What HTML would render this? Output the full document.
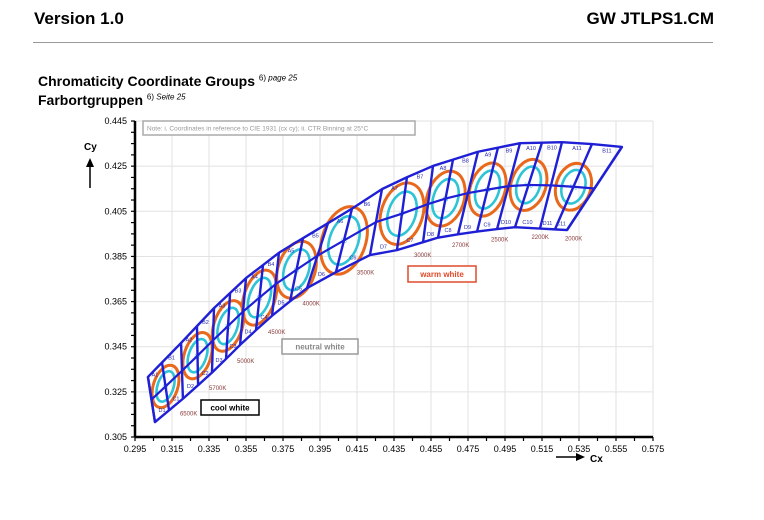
<!DOCTYPE html>
<html><head><meta charset="utf-8">
<style>
body{margin:0;background:#fff;width:764px;height:520px;overflow:hidden;font-family:"Liberation Sans",sans-serif}
.hdr{position:absolute;font-weight:bold;font-size:17px;top:9px}
</style></head>
<body>
<div class="hdr" style="left:34px">Version 1.0</div>
<div class="hdr" style="right:50px">GW JTLPS1.CM</div>
<div style="position:absolute;left:33px;top:42px;width:680px;height:1px;background:#999"></div>
<div style="position:absolute;left:38px;top:73px;font-weight:bold;font-size:14px">Chromaticity Coordinate Groups <sup style="font-size:8px;font-weight:normal">6) <i>page 25</i></sup></div>
<div style="position:absolute;left:38px;top:92px;font-weight:bold;font-size:14px">Farbortgruppen <sup style="font-size:8px;font-weight:normal">6) <i>Seite 25</i></sup></div>
<svg id="chart" width="764" height="520" style="position:absolute;left:0;top:0"></svg>
<script>
const xTicks=[0.295,0.315,0.335,0.355,0.375,0.395,0.415,0.435,0.455,0.475,0.495,0.515,0.535,0.555,0.575];
const xTickLabels=["0.295","0.315","0.335","0.355","0.375","0.395","0.415","0.435","0.455","0.475","0.495","0.515","0.535","0.555","0.575"];
const yTicks=[0.305,0.325,0.345,0.365,0.385,0.405,0.425,0.445];
const yTickLabels=["0.305","0.325","0.345","0.365","0.385","0.405","0.425","0.445"];
const upperCx=[0.3020,0.3204,0.3377,0.3550,0.3734,0.3950,0.4112,0.4274,0.4409,0.4561,0.4799,0.5031,0.5301,0.5583];
const upperCy=[0.3316,0.3471,0.3621,0.3754,0.3870,0.3976,0.4056,0.4144,0.4197,0.4251,0.4313,0.4352,0.4357,0.4335];
const lowerCx=[0.3058,0.3220,0.3382,0.3545,0.3707,0.3880,0.4058,0.4220,0.4366,0.4599,0.4777,0.4993,0.5285];
const lowerCy=[0.3116,0.3227,0.3347,0.3480,0.3599,0.3710,0.3790,0.3856,0.3878,0.3936,0.3958,0.3980,0.3967];
const boundTopCx=[0.3020,0.3096,0.3199,0.3285,0.3377,0.3464,0.3550,0.3642,0.3728,0.3858,0.3993,0.4123,0.4285,0.4420,0.4561,0.4669,0.4804,0.4912,0.5031,0.5150,0.5258,0.5420,0.5582];
const boundBotCx=[0.3058,0.3134,0.3209,0.3291,0.3366,0.3442,0.3518,0.3604,0.3691,0.3788,0.3880,0.4036,0.4220,0.4366,0.4507,0.4588,0.4696,0.4799,0.4907,0.5004,0.5139,0.5220,0.5285];
const groupCCT=["6500K","5700K","5000K","4500K","4000K","3500K","3000K","2700K","2500K","2200K","2000K"];
const ellipseA=[0.0066,0.0072,0.0077,0.0084,0.0100,0.0118,0.0112,0.0100,0.0094,0.0094,0.0094];
const ellipseB=[0.0097,0.0106,0.0116,0.0126,0.0130,0.0154,0.0140,0.0125,0.0121,0.0116,0.0106];

const NS="http://www.w3.org/2000/svg";
const svg=document.getElementById('chart');
const X=d=>135+(d-0.295)/0.02*37;
const Y=d=>437-(d-0.305)/0.02*45.14;
function interp(xs,ys,x){
  if(x<=xs[0]){const t=(x-xs[0])/(xs[1]-xs[0]);return ys[0]+t*(ys[1]-ys[0]);}
  for(let i=1;i<xs.length;i++){if(x<=xs[i]){const t=(x-xs[i-1])/(xs[i]-xs[i-1]);return ys[i-1]+t*(ys[i]-ys[i-1]);}}
  const n=xs.length-1;const t=(x-xs[n-1])/(xs[n]-xs[n-1]);return ys[n-1]+t*(ys[n]-ys[n-1]);
}
function mk(tag,attrs,parent){const e=document.createElementNS(NS,tag);for(const k in attrs)e.setAttribute(k,attrs[k]);(parent||svg).appendChild(e);return e;}

xTicks.forEach((t,i)=>{ if(i>0){const l=mk('line',{x1:X(t),x2:X(t),y1:Y(0.445),y2:Y(0.305),stroke:'#e2e2e2','stroke-width':1});

}});
yTicks.forEach((t,i)=>{ if(i>0){const l=mk('line',{x1:X(0.295),x2:X(0.575),y1:Y(t),y2:Y(t),stroke:'#e2e2e2','stroke-width':1});

}});
const xa=mk('line',{x1:X(0.295),x2:X(0.575),y1:Y(0.305),y2:Y(0.305),stroke:'#000','stroke-width':2.5});


const ya=mk('line',{x1:X(0.295),x2:X(0.295),y1:Y(0.445),y2:Y(0.305),stroke:'#000','stroke-width':2.5});


for(let v=0.295;v<=0.5751;v+=0.01){mk('line',{x1:X(v),x2:X(v),y1:Y(0.305),y2:Y(0.305)+4,stroke:'#000','stroke-width':1.2});}
for(let v=0.305;v<=0.4451;v+=0.005){mk('line',{x1:X(0.295)-4,x2:X(0.295),y1:Y(v),y2:Y(v),stroke:'#000','stroke-width':1.2});}
xTicks.forEach((t,i)=>{const e=mk('text',{x:X(t),y:Y(0.305)+15,'font-size':9,'text-anchor':'middle','font-family':'Liberation Sans'});e.textContent=xTickLabels[i];

});
yTicks.forEach((t,i)=>{const e=mk('text',{x:X(0.295)-8,y:Y(t)+3,'font-size':9,'text-anchor':'end','font-family':'Liberation Sans'});e.textContent=yTickLabels[i];

});
let e=mk('text',{x:84,y:150,'font-size':10,'font-weight':'bold','font-family':'Liberation Sans'});e.textContent='Cy';


mk('line',{x1:90,y1:188,x2:90,y2:165,stroke:'#000','stroke-width':1.5});
mk('path',{d:'M86,167 L90,158 L94,167 Z',fill:'#000'});
e=mk('text',{x:590,y:462,'font-size':10,'font-weight':'bold','font-family':'Liberation Sans'});e.textContent='Cx';


mk('line',{x1:556,y1:457,x2:578,y2:457,stroke:'#000','stroke-width':1.5});
mk('path',{d:'M576,453 L585,457 L576,461 Z',fill:'#000'});

const tops=boundTopCx.map(cx=>[X(cx),Y(interp(upperCx,upperCy,cx))]);
const bots=boundBotCx.map(cx=>[X(cx),Y(interp(lowerCx,lowerCy,cx))]);
const mids=tops.map((t,i)=>[(t[0]+bots[i][0])/2,(t[1]+bots[i][1])/2]);

for(let g=0;g<11;g++){
  const c=mids[2*g+1];
  const a=ellipseA[g]/0.02*37, b=ellipseB[g]/0.02*45.14;
  const grp=mk('g',{transform:`translate(${c[0]},${c[1]}) rotate(18)`});
  
  
  const o=mk('ellipse',{cx:0,cy:0,rx:a,ry:b,fill:'none',stroke:'#e8691c','stroke-width':3},grp);
  
  
  const ci=mk('ellipse',{cx:0,cy:0,rx:a*0.66,ry:b*0.72,fill:'none',stroke:'#2ec4d6','stroke-width':2.6},grp);
  
  
  const s=mk('text',{x:0,y:2,'font-size':5,'text-anchor':'middle',fill:'#2ec4d6','font-family':'Liberation Sans'},grp);s.textContent='S'+(g+1);
  
  
}

const blue='#1f1fd6';
let outline='M'+tops.map(p=>p.join(',')).join(' L')+' L'+bots.slice().reverse().map(p=>p.join(',')).join(' L')+' Z';
const ol=mk('path',{d:outline,fill:'none',stroke:blue,'stroke-width':2.4,'stroke-linejoin':'round'});


tops.forEach((t,i)=>{const l=mk('line',{x1:t[0],y1:t[1],x2:bots[i][0],y2:bots[i][1],stroke:blue,'stroke-width':2.4});

});
const ml=mk('path',{d:'M'+mids.map(p=>p.join(',')).join(' L'),fill:'none',stroke:blue,'stroke-width':2.2});



for(let g=0;g<11;g++){
  const L=2*g,M=2*g+1,R=2*g+2;
  const tA=[(tops[L][0]+tops[M][0])/2,(tops[L][1]+tops[M][1])/2];
  const tB=[(tops[M][0]+tops[R][0])/2,(tops[M][1]+tops[R][1])/2];
  const bD=[(bots[L][0]+bots[M][0])/2,(bots[L][1]+bots[M][1])/2];
  const bC=[(bots[M][0]+bots[R][0])/2,(bots[M][1]+bots[R][1])/2];
  const labs=[['A',tA,7],['B',tB,7],['D',bD,-4],['C',bC,-4]];
  labs.forEach(q=>{const t=mk('text',{x:q[1][0],y:q[1][1]+q[2],'font-size':5.5,'text-anchor':'middle',fill:'#2b2bb0','font-family':'Liberation Sans'});t.textContent=q[0]+(g+1);
  
  });
  const k=mk('text',{x:bC[0]+4,y:bC[1]+11,'font-size':6,fill:'#8a3a3a','font-family':'Liberation Sans'});k.textContent=groupCCT[g];
  
  
}

function box(x,y,w,h,stroke,txt,col,fs,bold,name,anchor){
  const r=mk('rect',{x:x,y:y,width:w,height:h,fill:'#fff',stroke:stroke,'stroke-width':1.5});
  
  
  const t=mk('text',{x:anchor?x+4:x+w/2,y:y+h/2+fs*0.35,'font-size':fs,'text-anchor':anchor?'start':'middle',fill:col,'font-weight':bold?'bold':'normal','font-family':'Liberation Sans'});t.textContent=txt;
  
  
}
box(143,121,272,14,'#aaa','Note: i. Coordinates in reference to CIE 1931 (cx cy); ii. CTR Binning at 25°C','#999',6.5,false,'note',true);
box(408,266,68,16,'#e04a2a','warm white','#e04a2a',8,true,'warm-white');
box(282,339,76,15,'#999','neutral white','#888',8,true,'neutral-white');
box(201,400,58,15,'#000','cool white','#000',8,true,'cool-white');
</script>
</body></html>
